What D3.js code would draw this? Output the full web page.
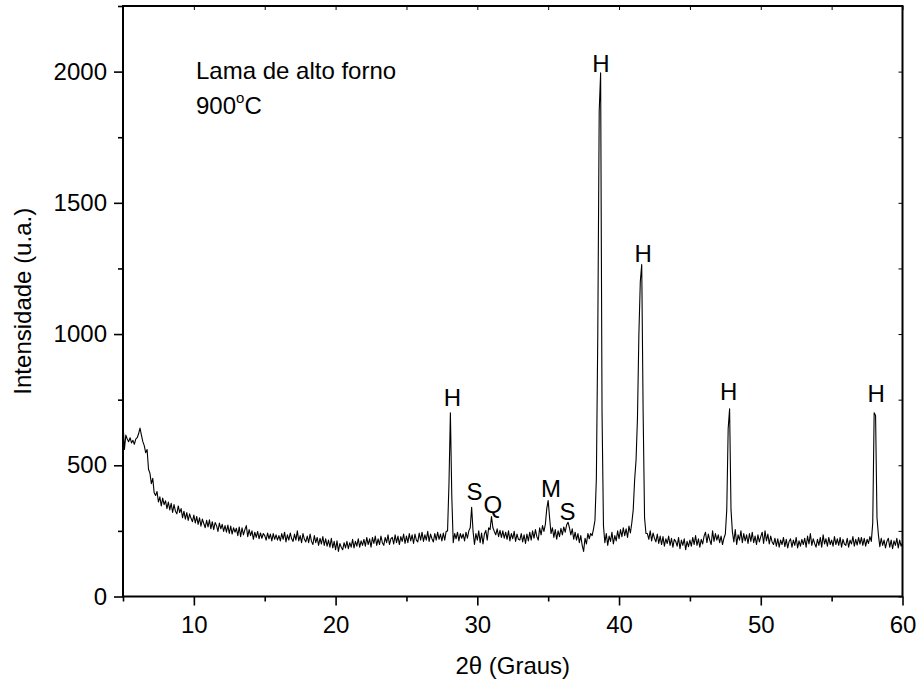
<!DOCTYPE html>
<html>
<head>
<meta charset="utf-8">
<script src="https://cdn.jsdelivr.net/npm/d3@7"></script>
<style>
  body { margin: 0; background: #fff; }
  text { font-family: Arial, "Liberation Sans", sans-serif; fill: #000; }
</style>
</head>
<body>
<div id="chart-area"></div>
<script>

/* Scan definition (2theta, degrees) */
var scanStart = 5;
var scanStep = 0.1;

/* Intensity, one row per degree (5.0 ... 59.9, then 60.0) */
var intensity = [
  665, 560, 615, 600, 590, 605, 585, 595, 580, 600,
  605, 620, 642, 615, 590, 575, 548, 560, 485, 470,
  430, 450, 395, 385, 400, 360, 380, 345, 375, 350,
  365, 335, 360, 330, 355, 320, 350, 325, 315, 345,
  320, 335, 300, 325, 295, 320, 290, 315, 298, 285,
  310, 280, 305, 275, 300, 268, 295, 278, 262, 290,
  265, 292, 258, 285, 255, 282, 270, 248, 280, 258,
  275, 248, 270, 245, 272, 240, 268, 238, 262, 245,
  260, 232, 265, 228, 262, 235, 255, 270, 228, 255,
  232, 250, 218, 245, 225, 248, 220, 242, 222, 240,
  232, 215, 242, 220, 238, 212, 240, 218, 235, 215,
  232, 212, 240, 218, 245, 208, 235, 215, 242, 220,
  210, 238, 215, 250, 212, 232, 205, 240, 218, 208,
  230, 205, 238, 210, 198, 232, 205, 225, 195, 222,
  200, 228, 195, 220, 192, 215, 188, 222, 185, 210,
  178, 212, 172, 202, 188, 178, 205, 185, 210, 182,
  205, 188, 218, 185, 210, 192, 220, 188, 212, 195,
  218, 192, 225, 198, 220, 188, 225, 202, 230, 195,
  220, 198, 230, 205, 195, 225, 205, 235, 198, 220,
  225, 200, 235, 205, 230, 198, 228, 210, 238, 202,
  230, 205, 240, 212, 235, 202, 238, 215, 208, 242,
  215, 245, 210, 235, 215, 248, 210, 238, 220, 208,
  240, 215, 245, 218, 238, 212, 242, 215, 248, 250,
  430, 700, 380, 205, 240, 220, 245, 212, 240, 222,
  238, 212, 245, 222, 250, 262, 340, 248, 198, 240,
  215, 250, 205, 242, 200, 238, 252, 215, 262, 255,
  305, 262, 248, 235, 258, 228, 252, 225, 250, 222,
  245, 218, 250, 212, 240, 220, 248, 210, 238, 218,
  215, 240, 208, 235, 202, 238, 212, 245, 215, 250,
  222, 255, 228, 215, 262, 235, 270, 248, 275, 335,
  366, 300, 240, 262, 225, 255, 218, 250, 228, 260,
  235, 265, 245, 272, 283, 262, 235, 258, 218, 245,
  215, 240, 205, 232, 195, 172, 222, 200, 240, 220,
  240, 232, 258, 290, 450, 1000, 1850, 1995, 700, 270,
  205, 240, 195, 230, 210, 245, 200, 232, 212, 250,
  220, 255, 228, 262, 232, 258, 225, 268, 242, 280,
  330, 445, 520, 680, 1000, 1200, 1265, 700, 300, 240,
  240, 218, 250, 212, 242, 222, 208, 238, 202, 230,
  198, 228, 192, 220, 202, 230, 195, 222, 188, 218,
  210, 192, 225, 182, 215, 195, 220, 178, 210, 190,
  215, 192, 225, 198, 232, 195, 220, 188, 218, 200,
  230, 245, 205, 238, 215, 198, 250, 210, 240, 215,
  235, 205, 230, 198, 222, 238, 330, 640, 715, 330,
  245, 208, 255, 198, 235, 215, 250, 205, 240, 212,
  235, 202, 240, 210, 245, 205, 230, 198, 235, 208,
  228, 245, 202, 250, 212, 238, 200, 230, 208, 198,
  222, 192, 220, 188, 215, 198, 225, 190, 218, 185,
  210, 220, 188, 215, 195, 225, 185, 212, 192, 218,
  198, 222, 188, 230, 200, 240, 195, 220, 202, 188,
  218, 195, 225, 188, 235, 200, 220, 192, 225, 198,
  215, 192, 228, 198, 220, 195, 225, 188, 218, 200,
  195, 222, 188, 215, 200, 228, 192, 218, 196, 225,
  200, 225, 195, 222, 192, 218, 202, 228, 210, 280,
  700, 690, 300, 235, 190, 222, 195, 215, 185, 210,
  222, 188, 215, 182, 212, 195, 222, 185, 215, 192,
  205
];

/* Phase labels: name, angle and intensity level of the label baseline */
var peakNames  = ["H", "S", "Q", "M", "S", "H", "H", "H", "H"];
var peakAngles = [28.24, 29.8, 31.1, 35.2, 36.37, 38.73, 41.7, 47.73, 58.15];
var peakLevels = [727, 367, 320, 381, 293, 2000, 1276, 750, 740];

/* Axis ticks */
var xMajor = [10, 20, 30, 40, 50, 60];
var xMinor = [5, 15, 25, 35, 45, 55];
var yMajor = [0, 500, 1000, 1500, 2000];
var yMinor = [250, 750, 1250, 1750, 2250];

/* Margin convention */
var margin = { top: 6, right: 13.5, bottom: 88.5, left: 123 };
var width = 916 - margin.left - margin.right;
var height = 685 - margin.top - margin.bottom;

var svg = d3.select("#chart-area").append("svg")
  .attr("width", 916)
  .attr("height", 685);

var g = svg.append("g")
  .attr("transform", "translate(" + margin.left + "," + margin.top + ")");

/* Scales */
var x = d3.scaleLinear().domain([5, 60]).range([0, width]);
var y = d3.scaleLinear().domain([0, 2250]).range([height, 0]);

var points = intensity.map(function(v, i) {
  return { a: scanStart + i * scanStep, v: v };
});

/* Pattern */
var line = d3.line()
  .x(function(d) { return x(d.a); })
  .y(function(d) { return y(d.v); });

g.append("path")
  .datum(points)
  .attr("fill", "none")
  .attr("stroke", "#000")
  .attr("stroke-width", 1.1)
  .attr("stroke-linejoin", "round")
  .attr("d", line);

/* Axes: outer ticks on bottom/left, inner ticks on top/right */
function styleAxis(sel) {
  sel.select(".domain").remove();
  sel.selectAll(".tick line").attr("stroke", "#000").attr("stroke-width", 1.6);
  sel.selectAll(".tick text").style("font-size", "24px")
    .style("font-family", "Arial, 'Liberation Sans', sans-serif");
}

g.append("g")
  .attr("transform", "translate(0," + height + ")")
  .call(d3.axisBottom(x).tickValues(xMajor).tickSize(9).tickPadding(10).tickFormat(d3.format("d")))
  .call(styleAxis);
g.append("g")
  .attr("transform", "translate(0," + height + ")")
  .call(d3.axisBottom(x).tickValues(xMinor).tickSize(5).tickFormat(""))
  .call(styleAxis);

g.append("g")
  .call(d3.axisLeft(y).tickValues(yMajor).tickSize(9).tickPadding(7).tickFormat(d3.format("d")))
  .call(styleAxis);
g.append("g")
  .call(d3.axisLeft(y).tickValues(yMinor).tickSize(5).tickFormat(""))
  .call(styleAxis);

g.append("g")
  .call(d3.axisBottom(x).tickValues(xMajor.concat(xMinor)).tickSize(4).tickFormat(""))
  .call(styleAxis)
  .selectAll(".tick line").attr("stroke-width", 1);
g.append("g")
  .attr("transform", "translate(" + width + ",0)")
  .call(d3.axisLeft(y).tickValues(yMajor.concat(yMinor)).tickSize(4).tickFormat(""))
  .call(styleAxis)
  .selectAll(".tick line").attr("stroke-width", 1);

/* Frame */
g.append("rect")
  .attr("width", width)
  .attr("height", height)
  .attr("fill", "none")
  .attr("stroke", "#000")
  .attr("stroke-width", 2);

/* Peak labels */
g.selectAll(".peak").data(peakNames)
  .enter()
    .append("text")
      .attr("class", "peak")
      .attr("x", function(d, i) { return x(peakAngles[i]); })
      .attr("y", function(d, i) { return y(peakLevels[i]); })
      .attr("text-anchor", "middle")
      .style("font-size", "24px")
      .text(function(d) { return d; });

/* Sample annotation */
g.append("text")
  .attr("x", 73)
  .attr("y", 73)
  .style("font-size", "24px")
  .text("Lama de alto forno");

var temp = g.append("text")
  .attr("x", 73)
  .attr("y", 108)
  .style("font-size", "24px");
temp.append("tspan").text("900");
temp.append("tspan").attr("dy", -11).style("font-size", "15px").text("o");
temp.append("tspan").attr("dy", 11).text("C");

/* Axis titles */
svg.append("text")
  .attr("x", margin.left + width / 2)
  .attr("y", 674)
  .attr("text-anchor", "middle")
  .style("font-size", "24px")
  .text("2\u03b8 (Graus)");

svg.append("text")
  .attr("transform", "translate(31," + (margin.top + height / 2) + ") rotate(-90)")
  .attr("text-anchor", "middle")
  .style("font-size", "24px")
  .text("Intensidade (u.a.)");

</script>
</body>
</html>
